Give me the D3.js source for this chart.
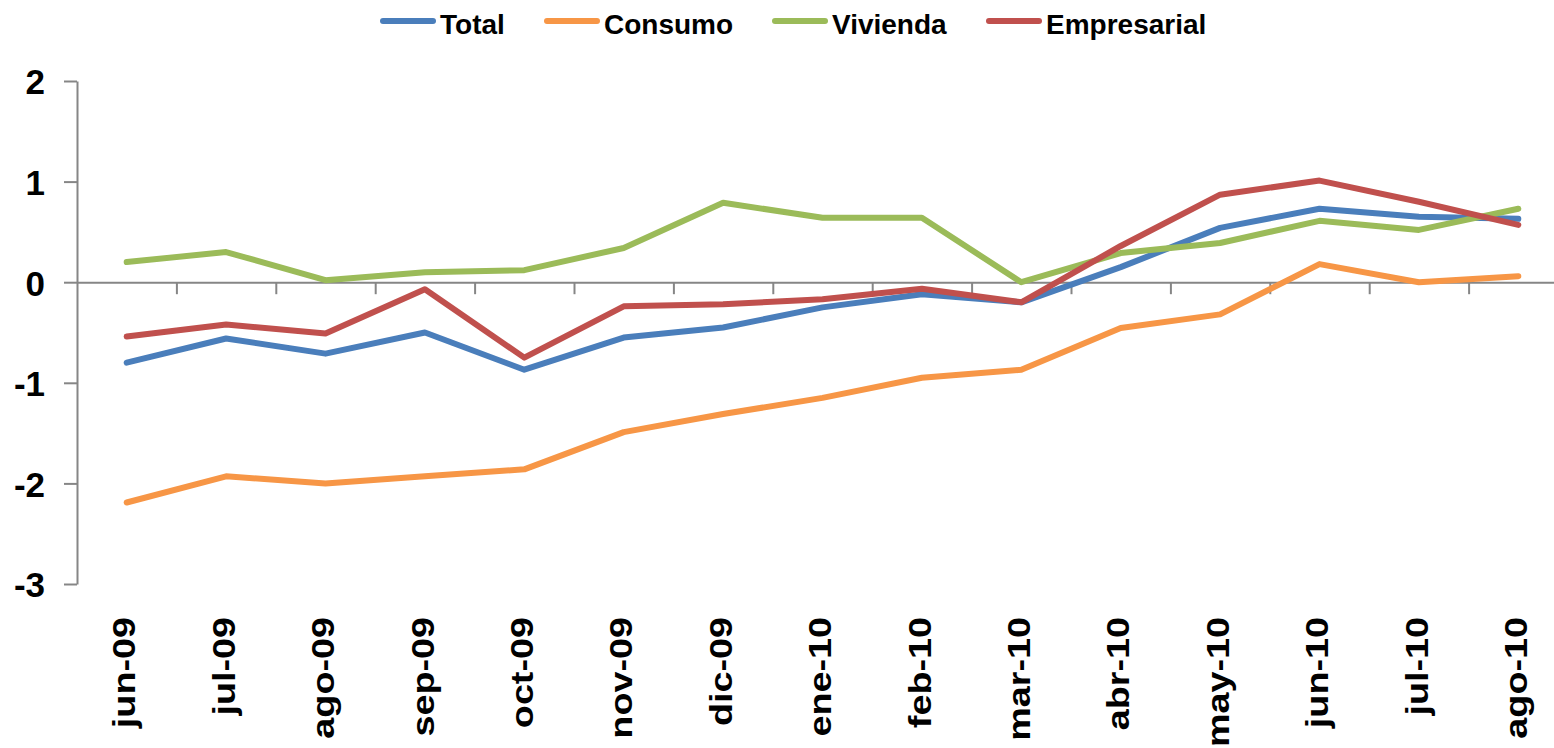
<!DOCTYPE html>
<html lang="es">
<head>
<meta charset="utf-8">
<title>Total, Consumo, Vivienda, Empresarial</title>
<script src="https://cdn.jsdelivr.net/npm/d3@7/dist/d3.min.js"></script>
<style>
  html, body { margin: 0; padding: 0; background: #fff; }
  svg { display: block; }
  text { font-family: Arial, "Liberation Sans", sans-serif; font-weight: bold; fill: #000; }
</style>
</head>
<body>
<script>
// categories (months)
var categories = ["jun-09", "jul-09", "ago-09", "sep-09", "oct-09", "nov-09", "dic-09", "ene-10",
                  "feb-10", "mar-10", "abr-10", "may-10", "jun-10", "jul-10", "ago-10"];

// series values
var total       = [-0.80, -0.56, -0.71, -0.50, -0.87, -0.55, -0.45, -0.25, -0.12, -0.20, 0.15, 0.54, 0.73, 0.65, 0.63];
var consumo     = [-2.19, -1.93, -2.00, -1.93, -1.86, -1.49, -1.31, -1.15, -0.95, -0.87, -0.455, -0.32, 0.18, 0.00, 0.06];
var vivienda    = [0.20, 0.30, 0.02, 0.10, 0.12, 0.34, 0.79, 0.64, 0.64, 0.00, 0.29, 0.39, 0.61, 0.52, 0.73];
var empresarial = [-0.54, -0.42, -0.51, -0.07, -0.75, -0.24, -0.22, -0.17, -0.065, -0.20, 0.36, 0.87, 1.01, 0.80, 0.57];

var seriesNames = ["Total", "Consumo", "Vivienda", "Empresarial"];
var yTicks = [2, 1, 0, -1, -2, -3];

var series = [
  { name: seriesNames[0], values: total,       color: "#4A7EBB" },
  { name: seriesNames[1], values: consumo,     color: "#F79646" },
  { name: seriesNames[2], values: vivienda,    color: "#9BBB59" },
  { name: seriesNames[3], values: empresarial, color: "#C0504D" }
];

var w = 1554, h = 748;
var axisColor = "#868686";

var svg = d3.select("body").append("svg")
  .attr("width", w)
  .attr("height", h);

// scales
var x = d3.scalePoint()
  .domain(categories)
  .range([77, 1568])
  .padding(0.5);

var slot = d3.scaleLinear()   // category boundaries, for the tick marks
  .domain([0, categories.length])
  .range([77, 1568]);

var y = d3.scaleLinear()
  .domain([-3, 2])
  .range([584, 81]);

// y axis (plain hyphen for negatives, like the original)
var yAxis = svg.append("g")
  .attr("transform", "translate(77,0)")
  .call(d3.axisLeft(y).tickValues(yTicks).tickSize(13).tickSizeOuter(0)
    .tickFormat(function(d) { return String(d); }));
yAxis.selectAll("path, line").attr("stroke", axisColor).attr("stroke-width", 2);
yAxis.selectAll("text")
  .attr("x", -32)
  .attr("dy", "0.37em")
  .style("font-size", "35px");

// x axis at zero, ticks between categories
var xAxis = svg.append("g")
  .attr("transform", "translate(0," + y(0) + ")")
  .call(d3.axisBottom(slot).tickValues(d3.range(1, categories.length)).tickSize(12).tickSizeOuter(0).tickFormat(""));
xAxis.selectAll("path, line").attr("stroke", axisColor).attr("stroke-width", 2);

// category labels, rotated
svg.append("g").selectAll("text")
  .data(categories)
  .enter()
  .append("text")
  .attr("transform", function(d) {
    return "translate(" + x(d) + ",617) rotate(-90) scale(1.18,1)";
  })
  .attr("text-anchor", "end")
  .attr("dy", "0.27em")
  .style("font-size", "32px")
  .text(function(d) { return d; });

// lines
var line = d3.line()
  .x(function(d, i) { return x(categories[i]); })
  .y(function(d) { return y(d); });

svg.append("g").selectAll("path")
  .data(series)
  .enter()
  .append("path")
  .attr("d", function(d) { return line(d.values); })
  .attr("fill", "none")
  .attr("stroke", function(d) { return d.color; })
  .attr("stroke-width", 6)
  .attr("stroke-linejoin", "round")
  .attr("stroke-linecap", "round");

// legend
var legendX = [383, 547, 775, 989];
var legend = svg.append("g").selectAll("g")
  .data(series)
  .enter()
  .append("g")
  .attr("transform", function(d, i) { return "translate(" + legendX[i] + ",0)"; });

legend.append("line")
  .attr("x1", 0).attr("x2", 50)
  .attr("y1", 21).attr("y2", 21)
  .attr("stroke", function(d) { return d.color; })
  .attr("stroke-width", 6)
  .attr("stroke-linecap", "round");

legend.append("text")
  .attr("x", 57)
  .attr("y", 34)
  .style("font-size", "28px")
  .text(function(d) { return d.name; });
</script>
</body>
</html>
